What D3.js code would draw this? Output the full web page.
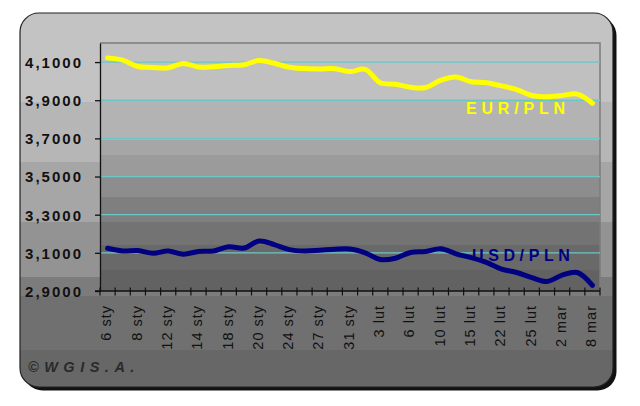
<!DOCTYPE html>
<html>
<head>
<meta charset="utf-8">
<script src="https://cdn.jsdelivr.net/npm/d3@7"></script>
<style>
html,body{margin:0;padding:0;background:#ffffff;}
svg{display:block;}
</style>
</head>
<body>
<svg id="chart" width="640" height="406"></svg>
<script>
// ---- data ----
const categories = ["6 sty","7 sty","8 sty","10 sty","12 sty","13 sty","14 sty","17 sty","18 sty","19 sty","20 sty","21 sty",
  "24 sty","26 sty","27 sty","28 sty","31 sty","1 lut","3 lut","4 lut","6 lut","7 lut","10 lut","13 lut",
  "15 lut","18 lut","22 lut","23 lut","25 lut","28 lut","2 mar","5 mar","8 mar"];
const shownLabels = ["6 sty","8 sty","12 sty","14 sty","18 sty","20 sty","24 sty","27 sty","31 sty","3 lut","6 lut",
  "10 lut","15 lut","22 lut","25 lut","2 mar","8 mar"];
const eurValues = [4.122,4.110,4.077,4.072,4.070,4.093,4.074,4.076,4.082,4.086,4.108,4.094,
  4.073,4.066,4.064,4.065,4.050,4.062,3.992,3.984,3.968,3.967,4.005,4.022,
  3.997,3.992,3.975,3.956,3.925,3.918,3.925,3.932,3.884];
const usdValues = [3.124,3.110,3.112,3.098,3.110,3.093,3.107,3.110,3.132,3.125,3.162,3.143,
  3.117,3.110,3.114,3.119,3.120,3.100,3.065,3.072,3.102,3.107,3.122,3.095,
  3.075,3.050,3.015,2.997,2.970,2.950,2.983,2.997,2.930];
const yTickValues = [2.9,3.1,3.3,3.5,3.7,3.9,4.1];
const seriesNames = ["EUR/PLN","USD/PLN"];
const copyrightText = "\u00A9WGIS.A.";

// ---- drawing ----
const svg = d3.select("#chart");
const defs = svg.append("defs");
const FONT = "Arial, 'Liberation Sans', sans-serif";

function stepGrad(id, y1, y2, bands){
  const g = defs.append("linearGradient").attr("id", id)
    .attr("gradientUnits","userSpaceOnUse").attr("x1",0).attr("x2",0).attr("y1",y1).attr("y2",y2);
  bands.forEach(b=>{
    const o0=(b[0]-y1)/(y2-y1), o1=(b[1]-y1)/(y2-y1);
    g.append("stop").attr("offset",Math.max(0,o0)).attr("stop-color",b[2]);
    g.append("stop").attr("offset",Math.min(1,o1)).attr("stop-color",b[2]);
  });
}
stepGrad("cardG", 13, 390, [
  [13,102,"#c3c3c3"],[102,162,"#b6b6b6"],[162,222,"#a6a6a6"],[222,277,"#939393"],
  [277,296,"#7c7c7c"],[296,350,"#707070"],[350,390,"#676767"]]);
stepGrad("plotG", 43, 291, [
  [43,100,"#c0c0c0"],[100,140,"#b3b3b3"],[140,155,"#a6a6a6"],[155,177,"#9b9b9b"],
  [177,197,"#8d8d8d"],[197,222,"#7f7f7f"],[222,245,"#737373"],[245,270,"#696969"],[270,291,"#626262"]]);

const card = {x:20, y:13, w:593, h:374, r:19};
// shadow
svg.append("rect").attr("x",card.x+3.5).attr("y",card.y+3.5).attr("width",card.w).attr("height",card.h)
  .attr("rx",card.r).attr("fill","#111");
svg.append("rect").attr("x",card.x).attr("y",card.y).attr("width",card.w).attr("height",card.h)
  .attr("rx",card.r).attr("fill","url(#cardG)").attr("stroke","#222").attr("stroke-width",1.2);

const plot = {l:100, r:600, t:43, b:291};
const x = d3.scaleBand().domain(categories).range([plot.l, plot.r]).padding(0);
const y = d3.scaleLinear().domain([2.9, 4.2]).range([plot.b, plot.t]);
const cx = d => x(d) + x.bandwidth()/2;

svg.append("rect").attr("x",plot.l).attr("y",plot.t).attr("width",plot.r-plot.l).attr("height",plot.b-plot.t)
  .attr("fill","url(#plotG)");
// plot border (top/right)
svg.append("path").attr("d",`M${plot.l},${plot.t}H${plot.r}V${plot.b}`)
  .attr("fill","none").attr("stroke","#7c7c7c").attr("stroke-width",1.5);

// gridlines
svg.append("g").selectAll("line").data(yTickValues.filter(v=>v>2.9)).join("line")
  .attr("x1",plot.l).attr("x2",plot.r).attr("y1",d=>y(d)).attr("y2",d=>y(d))
  .attr("stroke","#6cc6c6").attr("stroke-width",1.3);

// y axis
const yAxis = d3.axisLeft(y).tickValues(yTickValues).tickSize(5).tickSizeOuter(0)
  .tickFormat(d => d3.format(".4f")(d).replace(".", ","));
const gy = svg.append("g").attr("transform",`translate(${plot.l},0)`).call(yAxis);
gy.select(".domain").attr("stroke","#111").attr("stroke-width",1.3);
gy.selectAll(".tick line").attr("stroke","#111").attr("stroke-width",1.3);
gy.selectAll(".tick text").attr("x",-17).attr("dy","0.36em")
  .attr("font-family",FONT).attr("font-size",15).attr("font-weight","bold")
  .attr("letter-spacing",2).attr("fill","#111");

// x axis
const xAxis = d3.axisBottom(x).tickSize(4).tickSizeOuter(0).tickFormat("");
const gx = svg.append("g").attr("transform",`translate(0,${plot.b})`).call(xAxis);
gx.select(".domain").remove();
gx.append("line").attr("x1",plot.l-5).attr("x2",plot.r).attr("y1",0).attr("y2",0)
  .attr("stroke","#111").attr("stroke-width",1.3);
// tick crosses at category boundaries
const bounds = categories.map(c=>x(c)).concat([plot.r]);
gx.selectAll(".tick").remove();
gx.selectAll("line.bt").data(bounds).join("line").attr("class","bt")
  .attr("x1",d=>d).attr("x2",d=>d).attr("y1",-3.5).attr("y2",4.5)
  .attr("stroke","#111").attr("stroke-width",1.2);
svg.append("g").selectAll("text").data(shownLabels).join("text")
  .attr("transform",d=>`translate(${cx(d)-1.5},${plot.b+14}) rotate(-90)`)
  .attr("text-anchor","end").attr("dy","0.36em")
  .attr("font-family",FONT).attr("font-size",14.5).attr("letter-spacing",1)
  .attr("fill","#111").text(d=>d);

// lines
const line = d3.line().x((d,i)=>cx(categories[i])).y(d=>y(d)).curve(d3.curveCatmullRom.alpha(0.5));
svg.append("path").datum(eurValues).attr("d",line).attr("fill","none")
  .attr("stroke","#ffff00").attr("stroke-width",5).attr("stroke-linecap","round").attr("stroke-linejoin","round");
svg.append("path").datum(usdValues).attr("d",line).attr("fill","none")
  .attr("stroke","#000080").attr("stroke-width",5).attr("stroke-linecap","round").attr("stroke-linejoin","round");

// series labels
svg.append("text").attr("x",466).attr("y",114).text(seriesNames[0])
  .attr("font-family",FONT).attr("font-size",16).attr("font-weight","bold").attr("letter-spacing",4.8)
  .attr("fill","#ffff00");
svg.append("text").attr("x",472).attr("y",261).text(seriesNames[1])
  .attr("font-family",FONT).attr("font-size",16).attr("font-weight","bold").attr("letter-spacing",4.6)
  .attr("fill","#000080");

// copyright
svg.append("text").attr("x",28).attr("y",372).text(copyrightText)
  .attr("font-family",FONT).attr("font-size",14.5).attr("font-weight","bold").attr("font-style","italic")
  .attr("letter-spacing",5.5).attr("fill","#2a2a2a");
</script>
</body>
</html>
